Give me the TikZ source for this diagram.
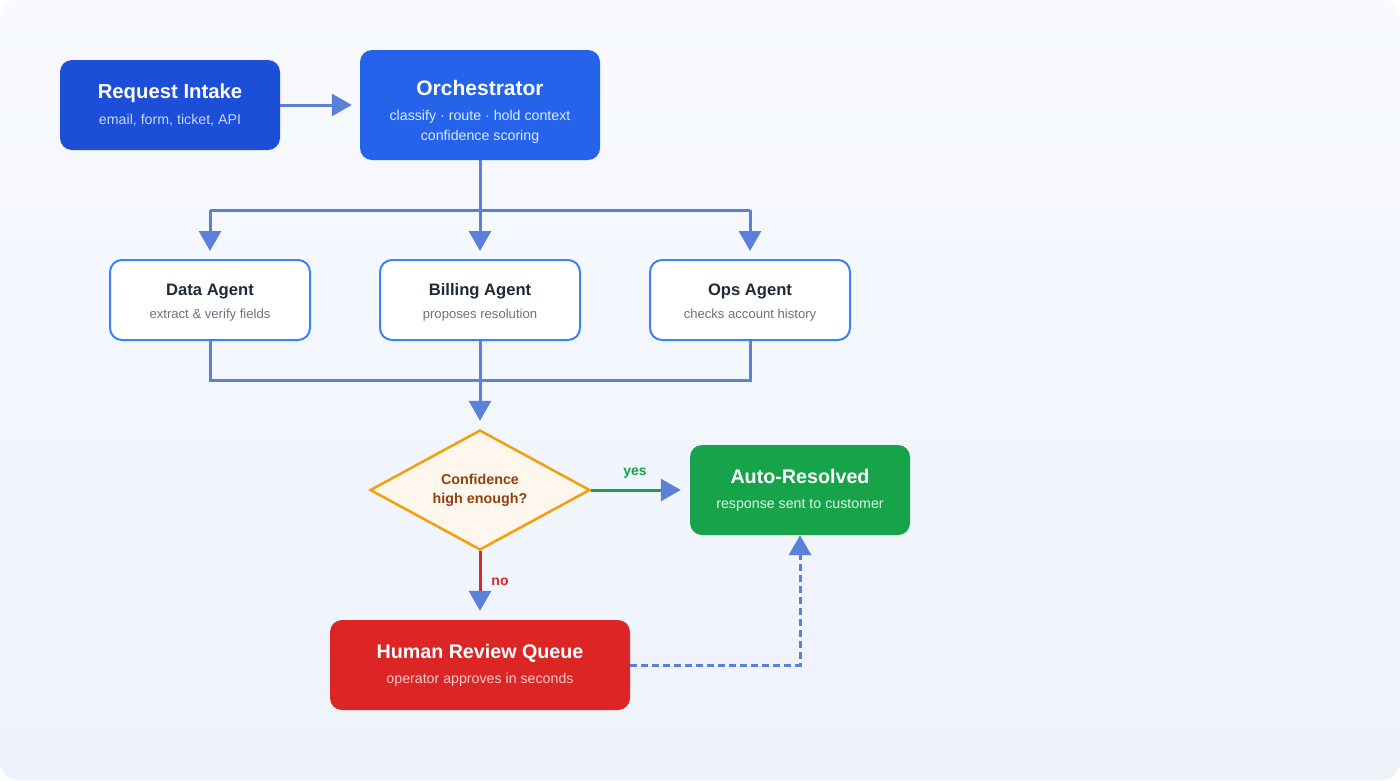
\documentclass[tikz,border=0pt]{standalone}
\usepackage{fontspec}
\setmainfont{Liberation Sans}
\usetikzlibrary{arrows.meta,shapes.geometric}
\definecolor{bgtop}{HTML}{F8FAFF}
\definecolor{bgbot}{HTML}{EEF2FB}
\definecolor{intakec}{HTML}{1D4ED8}
\definecolor{orchc}{HTML}{2563EB}
\definecolor{agentb}{HTML}{3B82F6}
\definecolor{connc}{HTML}{5B80DB}
\definecolor{decfill}{HTML}{FFF7ED}
\definecolor{decdraw}{HTML}{F59E0B}
\definecolor{dectext}{HTML}{92400E}
\definecolor{okc}{HTML}{16A34A}
\definecolor{noc}{HTML}{DC2626}
\definecolor{titledark}{HTML}{1F2937}
\definecolor{subgray}{HTML}{6B7280}
\definecolor{subintake}{HTML}{C7D7FE}
\definecolor{suborch}{HTML}{DBEAFE}
\definecolor{subok}{HTML}{DCFCE7}
\definecolor{subno}{HTML}{FECACA}
\tikzset{
  box/.style={rounded corners=12pt, inner sep=0pt, draw=none},
  agentbox/.style={rounded corners=12pt, inner sep=0pt, draw=agentb, line width=2pt, fill=white,
    minimum width=200pt, minimum height=80pt},
  txt/.style={anchor=base, inner sep=0pt},
  bigtitle/.style={txt, font=\fontsize{19.7}{23}\selectfont\bfseries, text=white},
  agtitle/.style={txt, font=\fontsize{16.6}{19}\selectfont\bfseries, text=titledark},
  subtxt/.style={txt, font=\fontsize{14.2}{17}\selectfont},
  agsub/.style={txt, font=\fontsize{13.1}{16}\selectfont, text=subgray},
  conn/.style={draw=connc, line width=3pt},
  tip/.style={-{Triangle[length=20pt,width=22pt,color=connc]}},
}
\begin{document}
\begin{tikzpicture}[x=1pt,y=-1pt]
\useasboundingbox (0,0) rectangle (1400,780);
\fill[white] (0,0) rectangle (1400,780);
\shade[top color=bgtop, bottom color=bgbot, rounded corners=18pt] (0,0) rectangle (1400,780);

% boxes
\node[box, fill=intakec, minimum width=220pt, minimum height=90pt] (intake) at (170,105) {};
\node[bigtitle, font=\fontsize{20.3}{24}\selectfont\bfseries] (intakeT) at (170,98) {Request Intake};
\node[subtxt, text=subintake] (intakeS) at (170,124) {email, form, ticket, API};

\node[box, fill=orchc, minimum width=240pt, minimum height=110pt] (orch) at (480,105) {};
\node[bigtitle, font=\fontsize{21}{24}\selectfont\bfseries] (orchT) at (480,95) {Orchestrator};
\node[subtxt, text=suborch] (orchS1) at (480,120) {classify · route · hold context};
\node[subtxt, text=suborch] (orchS2) at (480,140) {confidence scoring};

\node[agentbox] (data) at (210,300) {};
\node[agtitle] (dataT) at (210,295) {Data Agent};
\node[agsub] (dataS) at (210,318) {extract \& verify fields};

\node[agentbox] (bill) at (480,300) {};
\node[agtitle] (billT) at (480,295) {Billing Agent};
\node[agsub] (billS) at (480,318) {proposes resolution};

\node[agentbox] (ops) at (750,300) {};
\node[agtitle] (opsT) at (750,295) {Ops Agent};
\node[agsub] (opsS) at (750,318) {checks account history};

\node[diamond, draw=decdraw, line width=2.5pt, fill=decfill, inner sep=0pt,
  minimum width=220pt, minimum height=120pt] (dec) at (480,490) {};
\node[txt, font=\fontsize{14.3}{17}\selectfont\bfseries, text=dectext] (decT1) at (480,484) {Confidence};
\node[txt, font=\fontsize{14.3}{17}\selectfont\bfseries, text=dectext] (decT2) at (480,503) {high enough?};

\node[box, fill=okc, minimum width=220pt, minimum height=90pt] (auto) at (800,490) {};
\node[bigtitle] (autoT) at (800,483) {Auto-Resolved};
\node[subtxt, text=subok] (autoS) at (800,508) {response sent to customer};

\node[box, fill=noc, minimum width=300pt, minimum height=90pt] (human) at (480,665) {};
\node[bigtitle] (humanT) at (480,658) {Human Review Queue};
\node[subtxt, text=subno] (humanS) at (480,683) {operator approves in seconds};

% connectors
\draw[conn, tip, shorten >=8pt] (intake.east) -- (orch.west);

\coordinate (sC) at (480,210);
\coordinate (sL) at (210,210);
\coordinate (sR) at (750,210);
\draw[conn] (orch.south) -- (sC);
\draw[conn] (sL) -- (sR);
\draw[conn, tip, shorten >=8pt] (sL) -- (data.north);
\draw[conn, tip, shorten >=8pt] (sC) -- (bill.north);
\draw[conn, tip, shorten >=8pt] (sR) -- (ops.north);

\coordinate (mL) at (210,380);
\coordinate (mR) at (750,380);
\draw[conn] (data.south) -- (mL) -- (mR) -- (ops.south);
\draw[conn, tip, shorten >=8pt] (bill.south) -- (dec.north);

\draw[draw=okc, line width=3pt, tip, shorten >=9pt] (dec.east) -- (auto.west);
\node[txt, font=\fontsize{14}{17}\selectfont\bfseries, text=okc] (yesL) at (635,475) {yes};

\draw[draw=noc, line width=3pt, tip, shorten >=9pt] (dec.south) -- (human.north);
\node[txt, font=\fontsize{14}{17}\selectfont\bfseries, text=noc] (noL) at (500,585) {no};

\coordinate (dk) at (800,665);
\draw[conn, dash pattern=on 7pt off 4pt, tip] (human.east) -- (dk) -- (auto.south);
\end{tikzpicture}
\end{document}
